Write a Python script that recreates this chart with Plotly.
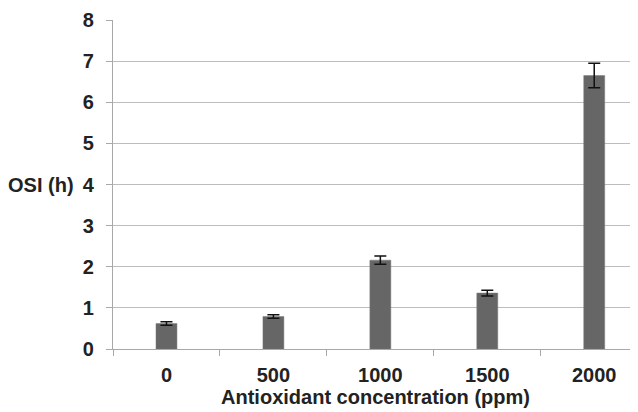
import plotly.graph_objects as go

categories = ["0", "500", "1000", "1500", "2000"]
osi_values = [0.62, 0.79, 2.16, 1.36, 6.65]
osi_errors = [0.04, 0.04, 0.10, 0.07, 0.30]
y_ticks = [0, 1, 2, 3, 4, 5, 6, 7, 8]

# page body has an 8px default margin; compensate so the chart lands in the 638x412 window
OFF = 8
W, H = 638 - OFF, 412 - OFF
left, top, bottom = 112.7 - OFF, 20 - OFF, 62.7
plot_w = W - left
cat_w = 107.0
x_max = -0.5 + plot_w / cat_w

FAM = "Liberation Sans, Arial, sans-serif"

fig = go.Figure()
fig.add_trace(go.Bar(
    x=list(range(len(categories))),
    y=osi_values,
    width=0.196,
    marker=dict(color="#666666", line=dict(color="#7a7a7a", width=0.5)),
    error_y=dict(type="data", array=osi_errors, visible=True,
                 color="#111111", thickness=1.5, width=6),
))

fig.update_layout(
    width=W, height=H,
    margin=dict(l=left, r=0, t=top, b=bottom, pad=0),
    paper_bgcolor="white", plot_bgcolor="white",
    showlegend=False,
    font=dict(family=FAM, size=20, color="#222222"),
    xaxis=dict(
        automargin=False,
        range=[-0.5, x_max],
        tickmode="array",
        tickvals=list(range(len(categories))),
        ticktext=categories,
        showgrid=False,
        showline=True, linecolor="#a8a8a8", linewidth=1.2,
        ticks="", zeroline=False,
        tickfont=dict(family=FAM, size=20, color="#222222", weight="bold"),
        title=dict(text="<b>Antioxidant concentration (ppm)</b>", standoff=2,
                   font=dict(family=FAM, size=20, color="#222222")),
        minor=dict(tickmode="array", tickvals=[-0.5, 0.5, 1.5, 2.5, 3.5],
                   ticks="outside", ticklen=6, tickcolor="#a8a8a8", tickwidth=1, showgrid=False),
        ticklabelstandoff=8,
    ),
    yaxis=dict(
        automargin=False,
        range=[0, 8],
        tickmode="array",
        tickvals=y_ticks,
        ticktext=[str(v) for v in y_ticks],
        showgrid=True, gridcolor="#bdbdbd", gridwidth=1.2,
        showline=True, linecolor="#a8a8a8", linewidth=1.2,
        ticks="outside", ticklen=6, tickcolor="#a8a8a8",
        zeroline=False,
        tickfont=dict(family=FAM, size=20, color="#222222", weight="bold"),
        ticklabelstandoff=8,
    ),
    annotations=[dict(
        text="<b>OSI (h)</b>", xref="paper", yref="y",
        x=(76 - 112.7) / plot_w, y=4, xanchor="right", yanchor="middle",
        showarrow=False,
        font=dict(family=FAM, size=20, color="#222222"),
    )],
)

fig.write_html("out.html")
